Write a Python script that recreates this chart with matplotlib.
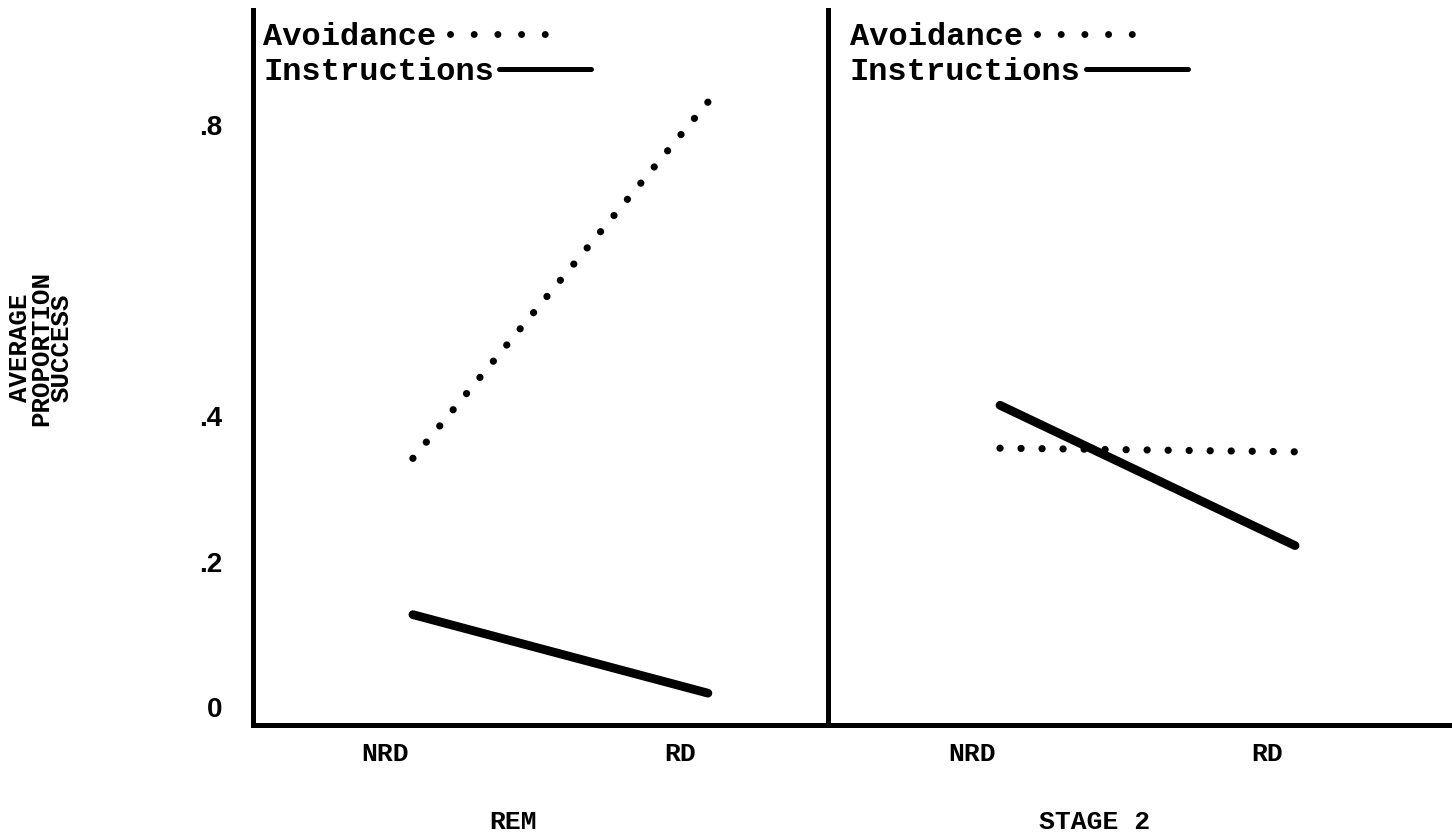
import matplotlib
matplotlib.use("Agg")
import matplotlib.pyplot as plt
import matplotlib.transforms as mtransforms
from matplotlib.lines import Line2D

# dati
condizioni = ["NRD", "RD"]
pannelli = ["REM", "STAGE 2"]
avoidance_rem = [0.342, 0.832]
instructions_rem = [0.127, 0.019]
avoidance_stage2 = [0.356, 0.351]
instructions_stage2 = [0.415, 0.222]
yticks = [0, 0.2, 0.4, 0.8]
yticklabels = ["0", ".2", ".4", ".8"]

font_mono = "Liberation Mono"
font_num = "Liberation Sans"

fig = plt.figure(figsize=(14.52, 8.38), dpi=100)
W, H = 1452, 838

def box(x0, x1, y0, y1):
    return [x0 / W, (H - y1) / H, (x1 - x0) / W, (y1 - y0) / H]

ax1 = fig.add_axes(box(253, 828, 10, 725))
ax2 = fig.add_axes(box(828, 1452, 10, 725))

dotted = (0, (0.01, 2.9))
serie = [
    (ax1, avoidance_rem, instructions_rem, (-0.542, 1.407)),
    (ax2, avoidance_stage2, instructions_stage2, (-0.583, 1.532)),
]
for ax, avo, ins, xl in serie:
    x = list(range(len(condizioni)))
    ax.plot(x, avo, color="black", lw=5.2, linestyle=dotted, dash_capstyle="round")
    ax.plot(x, ins, color="black", lw=6.3, solid_capstyle="round")
    ax.set_xlim(*xl)
    ax.set_ylim(-0.0248, 0.9587)
    for s in ["top", "right"]:
        ax.spines[s].set_visible(False)
    for s in ["left", "bottom"]:
        ax.spines[s].set_linewidth(3.6)
    ax.set_xticks(x)
    ax.set_xticklabels(condizioni, fontfamily=font_mono, fontweight="bold", fontsize=19)
    ax.tick_params(axis="x", length=0, pad=12)
    # etichette spostate un po' a sinistra come nell'originale
    offset = mtransforms.ScaledTranslation(-28 / 100, 0, fig.dpi_scale_trans)
    for lab in ax.get_xticklabels():
        lab.set_transform(lab.get_transform() + offset)

ax1.set_yticks(yticks)
ax1.set_yticklabels(yticklabels, fontfamily=font_num, fontweight="bold", fontsize=20)
ax1.tick_params(axis="y", length=0, pad=22)
ax2.set_yticks([])

ax1.set_xlabel(pannelli[0], fontfamily=font_mono, fontweight="bold", fontsize=19)
ax1.xaxis.set_label_coords((513 - 253) / 575, -0.119)
ax2.set_xlabel(pannelli[1], fontfamily=font_mono, fontweight="bold", fontsize=19)
ax2.xaxis.set_label_coords((1095 - 828) / 624, -0.119)

fig.text(41 / W, (H - 348) / H, "AVERAGE\nPROPORTION\nSUCCESS", rotation=90,
         ha="center", va="center", multialignment="center",
         fontfamily=font_mono, fontweight="bold", fontsize=18.5, linespacing=0.82)

# legenda: testo seguito dal campione di linea
h_avo = Line2D([], [], color="black", lw=5, linestyle=(0, (0.01, 3.4)), dash_capstyle="round")
h_ins = Line2D([], [], color="black", lw=3.6, solid_capstyle="round")
prop = {"family": font_mono, "weight": "bold", "size": 23}
for ax, xpix, hl_ins in [(ax1, 263, 2.9), (ax2, 850, 3.2)]:
    leg1 = ax.legend([h_avo], ["Avoidance"], loc="center left",
                     bbox_to_anchor=(xpix / W, (H - 37) / H), bbox_transform=fig.transFigure,
                     markerfirst=False, frameon=False, borderpad=0, borderaxespad=0,
                     handlelength=3.05, handletextpad=0.42, prop=prop)
    ax.add_artist(leg1)
    ax.legend([h_ins], ["Instructions"], loc="center left",
              bbox_to_anchor=(xpix / W, (H - 72) / H), bbox_transform=fig.transFigure,
              markerfirst=False, frameon=False, borderpad=0, borderaxespad=0,
              handlelength=hl_ins, handletextpad=0.15, prop=prop)

plt.savefig("out.png", dpi=100)
